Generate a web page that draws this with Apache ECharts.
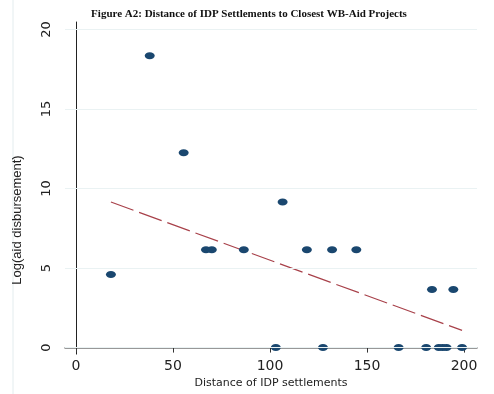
<!DOCTYPE html>
<html><head><meta charset="utf-8">
<script src="https://cdn.jsdelivr.net/npm/echarts@6/dist/echarts.min.js"></script>
<style>html,body{margin:0;padding:0;background:#fff}#c{width:494px;height:394px}</style>
</head><body><div id="c"></div>
<script>
var distance = [18, 38, 55.5, 67, 70, 86.5, 106.5, 119, 132, 144.5, 183.5, 194.5, 103, 127.3, 166.3, 180.5, 187, 189, 191, 199];
var logAid   = [4.6, 18.35, 12.25, 6.15, 6.15, 6.15, 9.15, 6.15, 6.15, 6.15, 3.65, 3.65, 0, 0, 0, 0, 0, 0, 0, 0];
var fitX = [18, 199];
var fitY = [9.15, 1.08];
var xTicks = [0, 50, 100, 150, 200];
var yTicks = [0, 5, 10, 15, 20];

var points = distance.map(function(d, i){ return [d, logAid[i]]; });
var fit = fitX.map(function(d, i){ return [d, fitY[i]]; });

var chart = echarts.init(document.getElementById('c'));
chart.setOption({
  animation: false,
  backgroundColor: '#fff',
  title: {
    text: 'Figure A2: Distance of IDP Settlements to Closest WB-Aid Projects',
    left: 244, top: 4, textAlign: 'center',
    textStyle: {fontFamily: 'Liberation Serif', fontWeight: 'bold', fontSize: 11, color: '#111'}
  },
  grid: {left: 65, right: 17, top: 22, bottom: 37},
  xAxis: {
    type: 'value', min: -5.67, max: 206.7,
    name: 'Distance of IDP settlements', nameLocation: 'middle', nameGap: 22,
    nameTextStyle: {fontFamily: 'DejaVu Sans', fontSize: 11, color: '#222'},
    axisLine: {show: true, lineStyle: {color: '#777', width: 1.5}},
    axisTick: {show: true, customValues: xTicks, length: 5, lineStyle: {color: '#333'}},
    axisLabel: {customValues: xTicks, fontFamily: 'DejaVu Sans', fontSize: 14, color: '#222', margin: 5},
    splitLine: {show: false}
  },
  yAxis: {
    type: 'value', min: -0.41, max: 20.47,
    axisLine: {show: true, lineStyle: {color: '#222', width: 1}},
    axisTick: {show: true, customValues: yTicks, length: 5, lineStyle: {color: '#777'}},
    axisLabel: {customValues: yTicks, fontFamily: 'DejaVu Sans', fontSize: 13, color: '#222', rotate: 90, margin: 12},
    splitLine: {show: false}
  },
  graphic: [
    {type: 'line', shape: {x1: 13, y1: 0, x2: 13, y2: 394}, style: {stroke: '#e3ecee', lineWidth: 1}},
    {type: 'text', x: 17, y: 220, rotation: Math.PI/2,
     style: {text: 'Log(aid disbursement)', fontFamily: 'Liberation Sans', fontSize: 13, fill: '#222', align: 'center', verticalAlign: 'middle'}}
  ],
  series: [
    {
      type: 'scatter', data: points, symbol: 'circle', symbolSize: [10, 7],
      itemStyle: {color: '#1a476f', opacity: 1}, z: 3,
      markLine: {
        silent: true, symbol: 'none', label: {show: false},
        lineStyle: {color: '#eaf2f3', type: 'solid', width: 1},
        data: yTicks.map(function(v){ return {yAxis: v}; })
      }
    },
    {
      type: 'line', data: fit, showSymbol: false, symbol: 'none',
      lineStyle: {color: '#a8414a', width: 1.2, type: [24, 6]}, z: 2
    }
  ]
});
</script></body></html>
